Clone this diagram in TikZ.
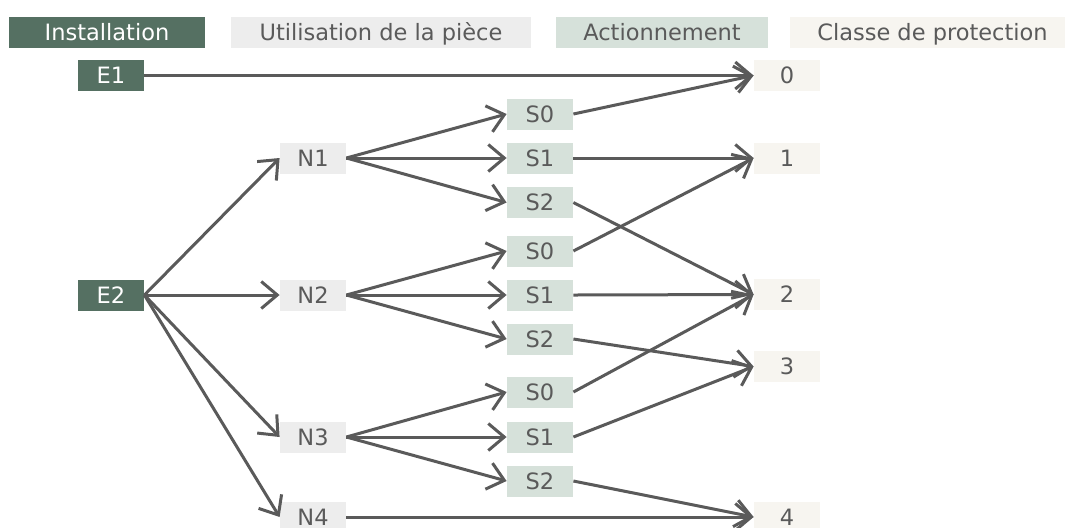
\documentclass[tikz,border=0pt]{standalone}
\usepackage{fontspec}
\setmainfont{DejaVu Sans}
\usepackage{tikz}
\usetikzlibrary{positioning,arrows.meta}

\definecolor{instgreen}{HTML}{557062}
\definecolor{usegrey}{HTML}{EDEDED}
\definecolor{actgreen}{HTML}{D6E1DA}
\definecolor{clsbeige}{HTML}{F7F5F0}
\definecolor{txtgrey}{HTML}{5A5A5A}
\definecolor{linegrey}{HTML}{5A5A5A}

\begin{document}
\begin{tikzpicture}[
    x=0.5pt, y=-0.5pt,
    base/.style={rectangle, inner sep=0pt, minimum width=33pt, minimum height=15.5pt, text height=8.2pt, text depth=0pt, font=\fontsize{11.25}{13}\selectfont, text=txtgrey},
    inst/.style={base, fill=instgreen, text=white},
    usage/.style={base, fill=usegrey},
    act/.style={base, fill=actgreen},
    cls/.style={base, fill=clsbeige},
    arrow/.style={-{Straight Barb[length=8pt,width=13.5pt]}, line width=1.5pt, draw=linegrey}
]
\useasboundingbox (0,0) rectangle (1065,527);

% --- Fila de titulos ---
\node[inst, minimum width=98pt] (hinst) at (107,32) {Installation};
\node[usage, minimum width=150pt] (huse) at (381,32) {Utilisation de la pièce};
\node[act, minimum width=106pt] (hact) at (662,32) {Actionnement};
\node[cls, minimum width=142.5pt] (hcls) at (932.5,32) {Classe de protection};

% --- Installation ---
\node[inst] (e1) at (111,75.5) {E1};
\node[inst] (e2) at (111,295) {E2};

% --- Utilisation de la piece ---
\node[usage] (n1) at (313,158) {N1};
\node[usage] (n2) at (313,295) {N2};
\node[usage] (n3) at (313,437) {N3};
\node[usage] (n4) at (313,517) {N4};

% --- Actionnement ---
\node[act] (s10) at (540,114) {S0};
\node[act] (s11) at (540,158) {S1};
\node[act] (s12) at (540,202.5) {S2};
\node[act] (s20) at (540,251) {S0};
\node[act] (s21) at (540,295) {S1};
\node[act] (s22) at (540,339) {S2};
\node[act] (s30) at (540,392) {S0};
\node[act] (s31) at (540,437) {S1};
\node[act] (s32) at (540,481) {S2};

% --- Classe de protection ---
\node[cls] (c0) at (787,75.5) {0};
\node[cls] (c1) at (787,158) {1};
\node[cls] (c2) at (787,294.5) {2};
\node[cls] (c3) at (787,366.5) {3};
\node[cls] (c4) at (787,517) {4};

% --- Conexiones: installation ---
\draw[arrow] (e1.east) -- (c0.west);
\draw[arrow] (e2.east) -- (n1.west);
\draw[arrow] (e2.east) -- (n2.west);
\draw[arrow] (e2.east) -- (n3.west);
\draw[arrow] (e2.east) -- (n4.west);
\draw[arrow] (n4.east) -- (c4.west);

% --- Conexiones: utilisation vers actionnement ---
\foreach \g in {1,2,3}
  \foreach \s in {0,1,2}
    \draw[arrow] (n\g.east) -- (s\g\s.west);

% --- Conexiones: actionnement vers classe ---
\draw[arrow] (s10.east) -- (c0.west);
\draw[arrow] (s11.east) -- (c1.west);
\draw[arrow] (s12.east) -- (c2.west);
\draw[arrow] (s20.east) -- (c1.west);
\draw[arrow] (s21.east) -- (c2.west);
\draw[arrow] (s22.east) -- (c3.west);
\draw[arrow] (s30.east) -- (c2.west);
\draw[arrow] (s31.east) -- (c3.west);
\draw[arrow] (s32.east) -- (c4.west);

\end{tikzpicture}
\end{document}
